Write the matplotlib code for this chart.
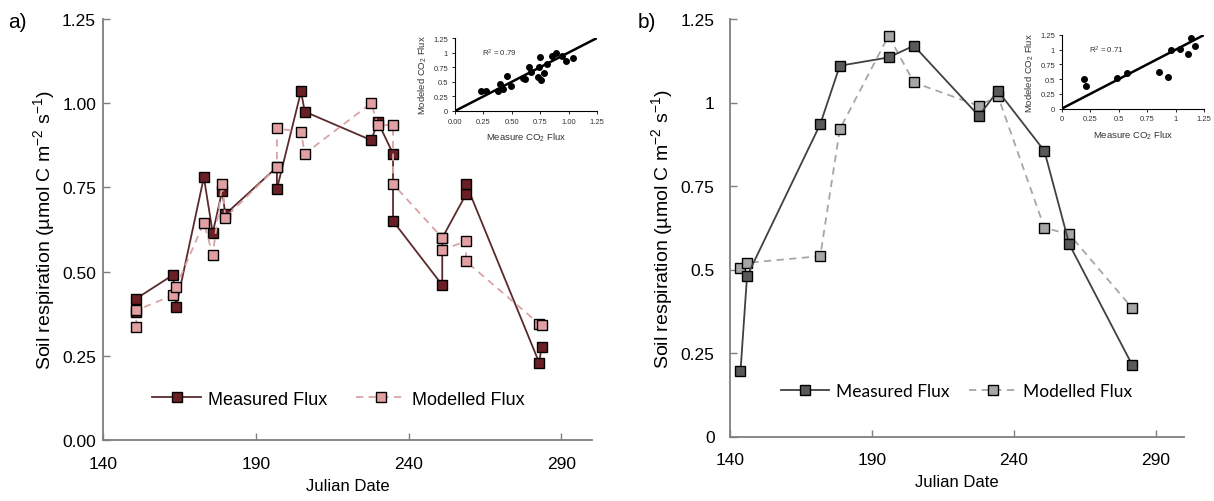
import matplotlib
matplotlib.use('Agg')
import matplotlib.pyplot as plt

plt.rcParams['font.family'] = ['Liberation Sans', 'DejaVu Sans']
plt.rcParams['mathtext.default'] = 'regular'

# Panel a: Julian date, measured and modelled soil respiration
days_a = [150.9, 150.9, 162.9, 163.9, 173.0, 175.9, 179.0, 180.0, 196.9, 196.9, 204.8,
          206.0, 227.8, 229.9, 234.9, 234.9, 251.0, 251.0, 258.8, 258.8, 282.7, 283.5]
meas_a = [0.38, 0.42, 0.49, 0.395, 0.78, 0.615, 0.74, 0.67, 0.81, 0.745, 1.035,
          0.975, 0.89, 0.945, 0.85, 0.65, 0.46, 0.60, 0.73, 0.76, 0.23, 0.275]
model_a = [0.335, 0.385, 0.43, 0.455, 0.645, 0.55, 0.76, 0.66, 0.81, 0.925, 0.915,
           0.85, 1.0, 0.935, 0.935, 0.76, 0.60, 0.565, 0.59, 0.53, 0.345, 0.34]

# Panel b
days_b = [143.7, 146.0, 171.8, 178.7, 195.9, 204.8, 227.7, 234.4, 250.8, 259.6, 281.7]
meas_b = [0.195, 0.48, 0.935, 1.11, 1.135, 1.17, 0.96, 1.035, 0.855, 0.575, 0.215]
model_b = [0.505, 0.52, 0.54, 0.92, 1.2, 1.06, 0.99, 1.02, 0.625, 0.605, 0.385]

xticks = [140, 190, 240, 290]
yticks = [0, 0.25, 0.5, 0.75, 1.0, 1.25]
ylabels_a = ['0.00', '0.25', '0.50', '0.75', '1.00', '1.25']
ylabels_b = ['0', '0.25', '0.5', '0.75', '1', '1.25']
inset_a_x = ['0.00', '0.25', '0.50', '0.75', '1.00', '1.25']
r2_a = 'R$^2$ = 0.79'
r2_b = 'R$^2$ = 0.71'

W, H = 1214, 502
fig = plt.figure(figsize=(W / 100, H / 100), dpi=100)


def px_axes(x0, y0, x1, y1):
    # pixel box (left, top, right, bottom) -> figure axes
    return fig.add_axes([x0 / W, (H - y1) / H, (x1 - x0) / W, (y1 - y0) / H])


def main_panel(ax, days, meas, model, c_meas, c_line, c_mod, c_dash, ylabels,
               leg_font, leg_size, leg_x, leg_y, hl, cs, ypad, meas_top):
    ax.plot(days, meas, '-', color=c_line, lw=1.3, marker='s', ms=7.5,
            mfc=c_meas, mec='black', mew=1.0, label='Measured Flux', zorder=4 if meas_top else 3)
    ax.plot(days, model, '--', color=c_dash, lw=1.3, dashes=(4, 3), marker='s', ms=7.5,
            mfc=c_mod, mec='black', mew=1.0, label='Modelled Flux', zorder=3 if meas_top else 4)
    ax.set_xlim(140, 300)
    ax.set_ylim(0, 1.25)
    ax.set_xticks(xticks)
    ax.set_yticks(yticks)
    ax.set_yticklabels(ylabels)
    for s in ['top', 'right']:
        ax.spines[s].set_visible(False)
    for s in ['left', 'bottom']:
        ax.spines[s].set_color('#7f7f7f')
        ax.spines[s].set_linewidth(1.3)
    ax.tick_params(direction='in', length=5, width=1, color='#7f7f7f', labelsize=12.5)
    ax.tick_params(axis='x', pad=11.5)
    ax.tick_params(axis='y', pad=ypad)
    ax.set_xlabel('Julian Date', fontsize=12, labelpad=5)
    ax.set_ylabel('Soil respiration (µmol C m$^{-2}$ s$^{-1}$)', fontsize=14, labelpad=4)
    ax.legend(loc='center', bbox_to_anchor=(leg_x, leg_y), ncol=2, frameon=False,
              handlelength=hl, handletextpad=0.4, columnspacing=cs,
              prop={'family': leg_font, 'size': leg_size})


def inset(ax, meas, model, xlabels, r2):
    ax.plot(meas, model, 'o', color='black', ms=4, zorder=3)
    ax.plot([0, 1.25], [0, 1.25], '-', color='black', lw=1.8)
    ax.set_xlim(0, 1.25)
    ax.set_ylim(0, 1.25)
    ax.set_xticks(yticks)
    ax.set_xticklabels(xlabels)
    ax.set_yticks(yticks)
    ax.set_yticklabels(ylabels_b)
    for s in ['top', 'right']:
        ax.spines[s].set_visible(False)
    for s in ['left', 'bottom']:
        ax.spines[s].set_linewidth(0.8)
    ax.tick_params(direction='out', length=2, width=0.6, labelsize=5.5, pad=3,
                   labelcolor='#333333')
    ax.set_xlabel('Measure CO$_2$ Flux', fontsize=6.8, labelpad=4, color='#333333')
    ax.set_ylabel('Modeled CO$_2$ Flux', fontsize=6.8, labelpad=3, color='#333333')
    ax.text(0.24, 1.0, r2, fontsize=5.7, va='center', ha='left', color='#333333')


ax_a = px_axes(103, 20, 592, 441)
main_panel(ax_a, days_a, meas_a, model_a, '#6a1f25', '#5a2a2c', '#e2a0a3', '#d9a3a4',
           ylabels_a, 'Liberation Sans', 13, 0.482, 0.097, 2.7, 1.6, 5, False)
ax_b = px_axes(730, 20, 1184, 437.5)
main_panel(ax_b, days_b, meas_b, model_b, '#595959', '#404040', '#a6a6a6', '#a6a6a6',
           ylabels_b, 'Lato', 12.5, 0.5, 0.109, 2.75, 1.1, 11, True)

in_a = px_axes(455, 39, 597, 112)
inset(in_a, meas_a, model_a, inset_a_x, r2_a)
in_b = px_axes(1062, 36, 1204, 109.5)
inset(in_b, meas_b, model_b, ylabels_b, r2_b)

fig.text(8 / W, 1 - 22 / H, 'a)', fontsize=15, va='center', ha='left')
fig.text(638 / W, 1 - 22 / H, 'b)', fontsize=15, va='center', ha='left')

fig.savefig('out.png', dpi=100)
